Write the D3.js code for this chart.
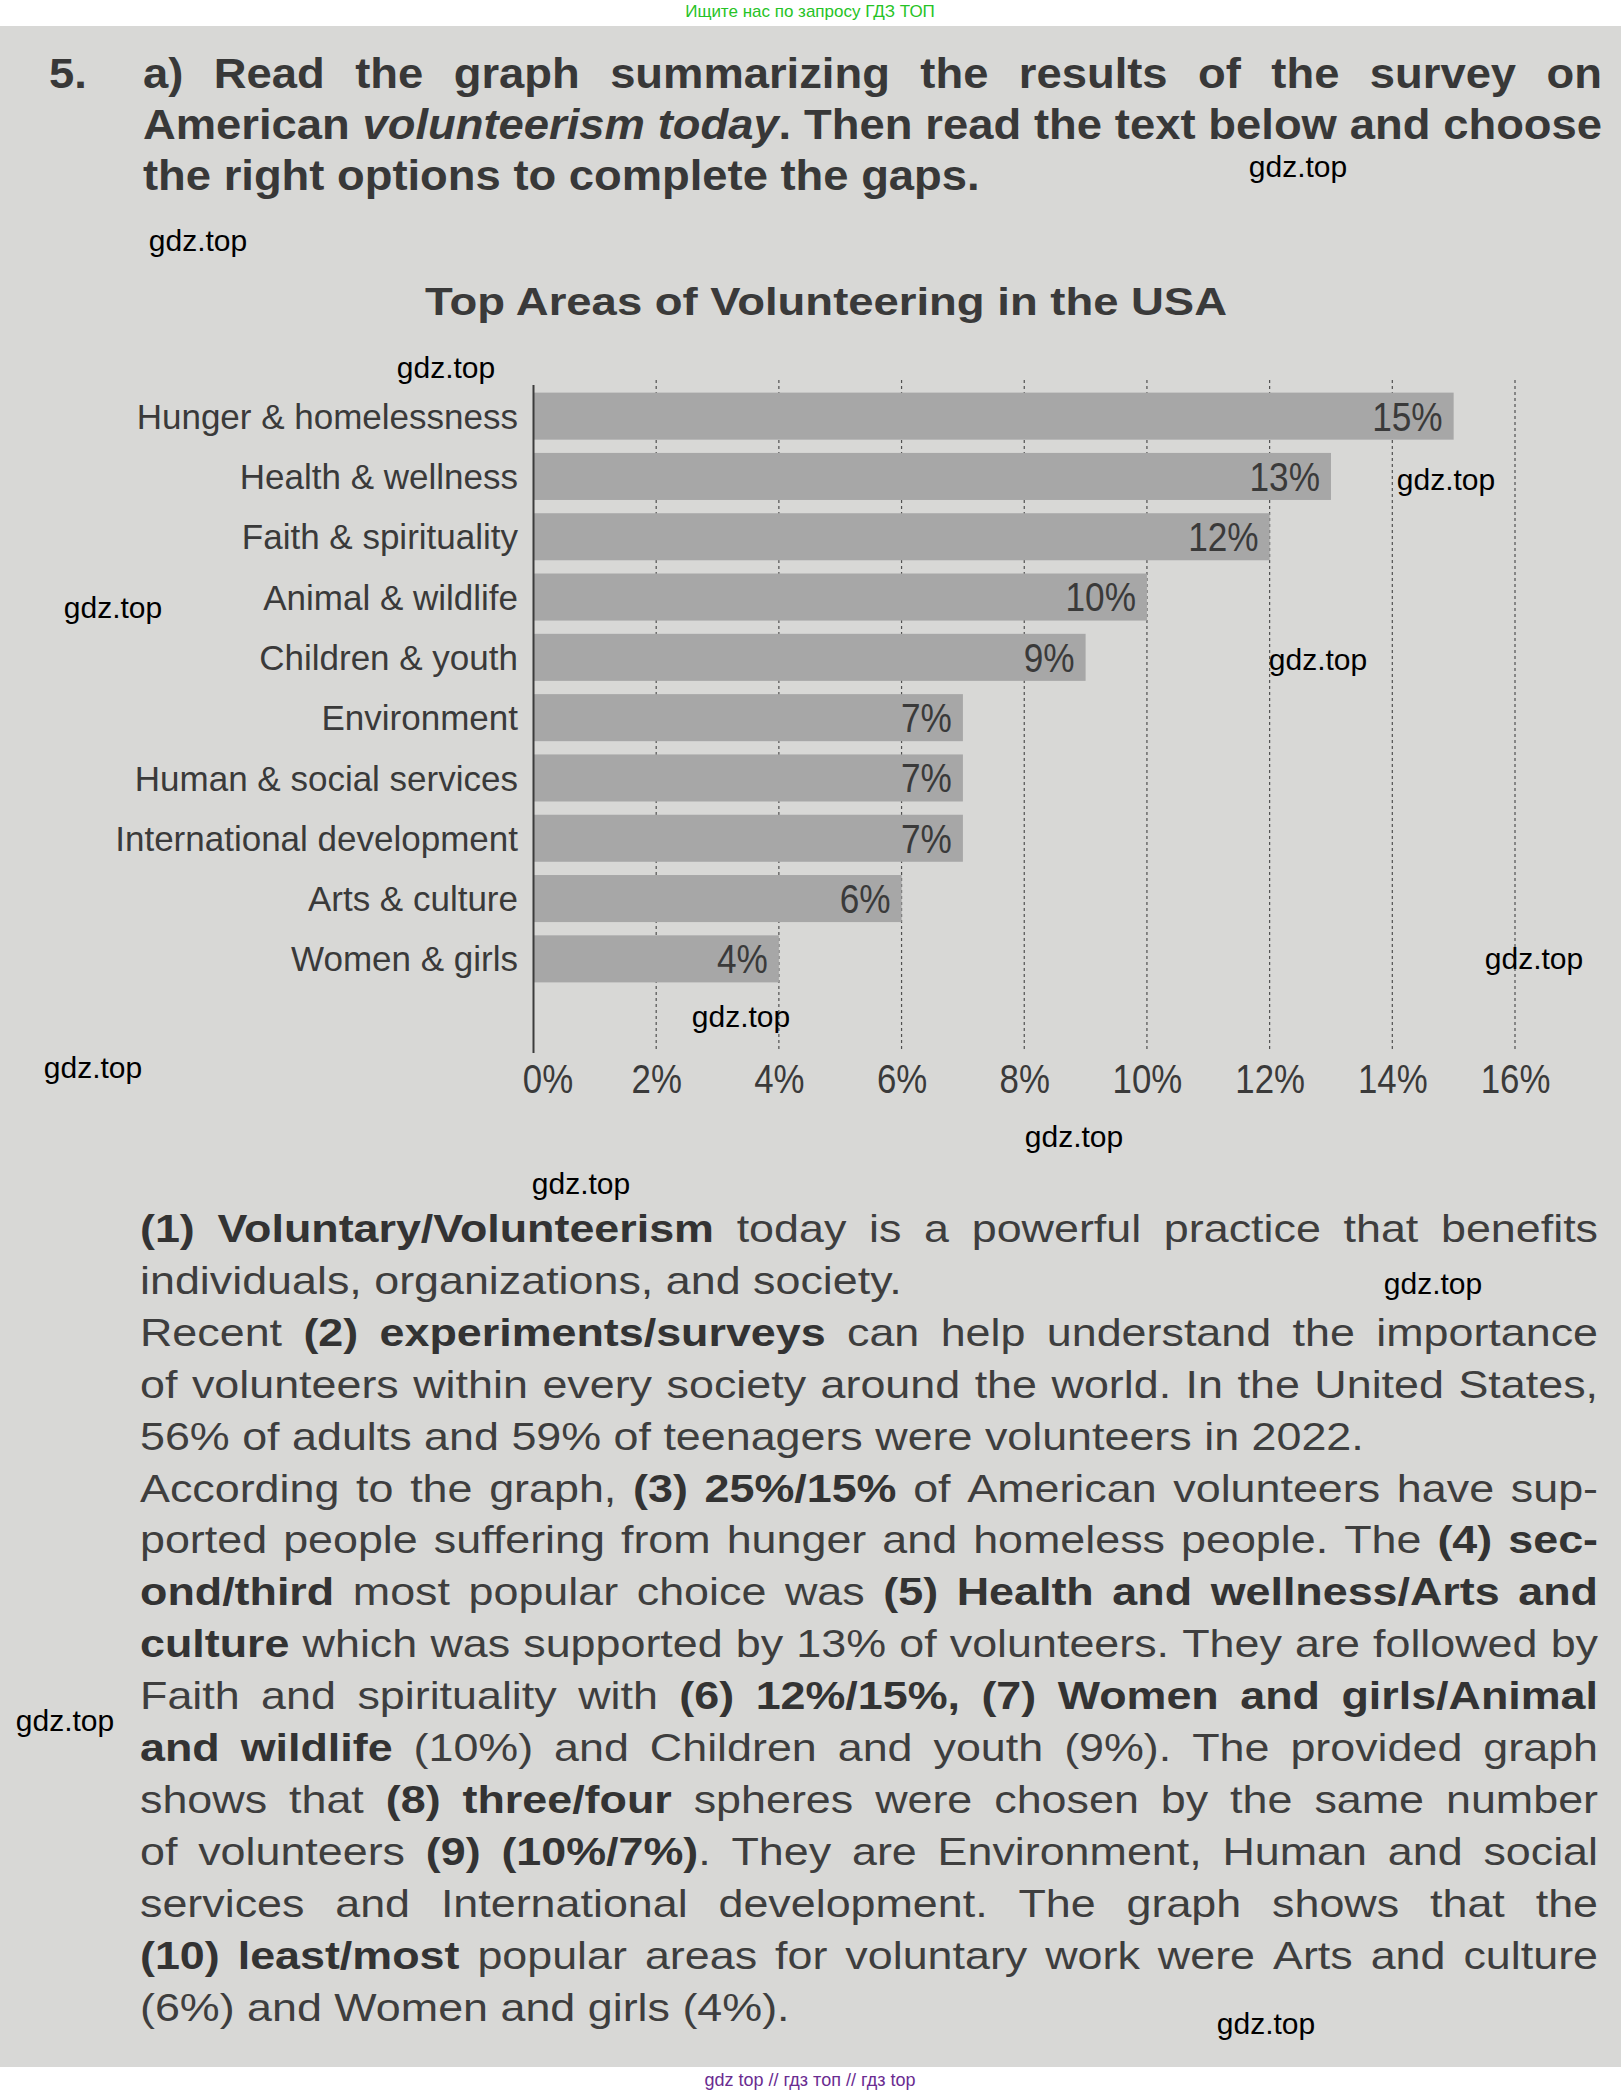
<!DOCTYPE html>
<html><head><meta charset="utf-8">
<script src="https://cdn.jsdelivr.net/npm/d3@7"></script>
<style>
html,body{margin:0;padding:0;background:#fff;}
svg{display:block;font-family:'Liberation Sans',Arial,sans-serif;}
</style></head><body>
<svg id="page" width="1621" height="2094"></svg>
<script>
// ---------- chart data ----------
const categories = ["Hunger & homelessness","Health & wellness","Faith & spirituality","Animal & wildlife","Children & youth","Environment","Human & social services","International development","Arts & culture","Women & girls"];
const values = [15,13,12,10,9,7,7,7,6,4];
const tickValues = [0,2,4,6,8,10,12,14,16];
const tickLabels = ["0%","2%","4%","6%","8%","10%","12%","14%","16%"];
const chartTitle = "Top Areas of Volunteering in the USA";

// ---------- page text ----------
const bannerTop = "Ищите нас по запросу ГДЗ ТОП";
const bannerBottom = "gdz top // гдз топ // гдз top";
const exerciseNumber = "5.";
const headingLines = [
  {segs:[["a) Read the graph summarizing the results of the survey on","b"]], justify:true},
  {segs:[["American ","b"],["volunteerism today","bi"],[". Then read the text below and choose","b"]], justify:true},
  {segs:[["the right options to complete the gaps.","b"]], justify:false}
];
const paragraphLines = [
  {segs:[["(1) Voluntary/Volunteerism","b"],[" today is a powerful practice that benefits","r"]], justify:true},
  {segs:[["individuals, organizations, and society.","r"]], justify:false},
  {segs:[["Recent ","r"],["(2) experiments/surveys","b"],[" can help understand the importance","r"]], justify:true},
  {segs:[["of volunteers within every society around the world. In the United States,","r"]], justify:true},
  {segs:[["56% of adults and 59% of teenagers were volunteers in 2022.","r"]], justify:false},
  {segs:[["According to the graph, ","r"],["(3) 25%/15%","b"],[" of American volunteers have sup-","r"]], justify:true},
  {segs:[["ported people suffering from hunger and homeless people. The ","r"],["(4) sec-","b"]], justify:true},
  {segs:[["ond/third","b"],[" most popular choice was ","r"],["(5) Health and wellness/Arts and","b"]], justify:true},
  {segs:[["culture","b"],[" which was supported by 13% of volunteers. They are followed by","r"]], justify:true},
  {segs:[["Faith and spirituality with ","r"],["(6) 12%/15%, (7) Women and girls/Animal","b"]], justify:true},
  {segs:[["and wildlife","b"],[" (10%) and Children and youth (9%). The provided graph","r"]], justify:true},
  {segs:[["shows that ","r"],["(8) three/four","b"],[" spheres were chosen by the same number","r"]], justify:true},
  {segs:[["of volunteers ","r"],["(9) (10%/7%)","b"],[". They are Environment, Human and social","r"]], justify:true},
  {segs:[["services and International development. The graph shows that the","r"]], justify:true},
  {segs:[["(10) least/most","b"],[" popular areas for voluntary work were Arts and culture","r"]], justify:true},
  {segs:[["(6%) and Women and girls (4%).","r"]], justify:false}
];
const watermarkText = "gdz.top";
const watermarks = [[1298,169],[198,243],[446,370],[1446,482],[113,610],[1318,662],[1534,961],[741,1019],[93,1070],[1074,1139],[581,1186],[1433,1286],[65,1723],[1266,2026]];

// ---------- drawing ----------
const svg = d3.select("#page");
svg.append("rect").attr("x",0).attr("y",0).attr("width",1621).attr("height",2094).attr("fill","#ffffff");
svg.append("rect").attr("x",0).attr("y",26).attr("width",1621).attr("height",2041).attr("fill","#d8d8d6");

svg.append("text").attr("x",810).attr("y",17).attr("text-anchor","middle")
  .attr("font-size",17).attr("fill","#26c326").text(bannerTop);
svg.append("text").attr("x",810).attr("y",2086).attr("text-anchor","middle")
  .attr("font-size",18).attr("fill","#6a2c91").text(bannerBottom);

function tokenize(segs){
  const words=[]; let cur=[];
  segs.forEach(([txt,style])=>{
    let buf='';
    for(const ch of txt){
      if(ch===' '){
        if(buf){cur.push({t:buf,s:style});buf='';}
        if(cur.length){words.push(cur);cur=[];}
      } else buf+=ch;
    }
    if(buf) cur.push({t:buf,s:style});
  });
  if(cur.length) words.push(cur);
  return words;
}
function drawLine(parent, line, x0, baseline, T, fs, sx, color, boldColor){
  const g = parent.append("g").attr("transform",`translate(${x0},${baseline}) scale(${sx},1)`);
  const words = tokenize(line.segs);
  const els = words.map(w=>{
    const t = g.append("text").attr("font-size",fs).attr("fill",color);
    w.forEach(p=>{
      const ts = t.append("tspan").text(p.t);
      if(p.s.includes("b")) ts.attr("font-weight","bold").attr("fill",boldColor);
      if(p.s.includes("i")) ts.attr("font-style","italic");
    });
    return t;
  });
  const widths = els.map(t=>t.node().getComputedTextLength());
  const sum = d3.sum(widths);
  let gap = (line.justify && words.length>1) ? (T/sx - sum)/(words.length-1) : fs*0.278;
  gap = Math.max(gap, fs*0.22);
  let x = 0;
  els.forEach((t,i)=>{ t.attr("x",x); x += widths[i]+gap; });
}

// heading
const head = svg.append("g");
head.append("g").attr("transform","translate(49,88) scale(1.08,1)")
  .append("text").attr("font-size",42).attr("font-weight","bold").attr("fill","#383838").text(exerciseNumber);
headingLines.forEach((ln,i)=>drawLine(head, ln, 143, 88+i*51, 1459, 42, 1.08, "#383838", "#383838"));

// chart
const chart = svg.append("g");
const x = d3.scaleLinear().domain([0,16]).range([533.5,1515]);
const y = d3.scaleBand().domain(categories).range([386,989]).paddingInner(0.22).paddingOuter(0.11);

chart.append("text").attr("x",826).attr("y",315).attr("text-anchor","middle")
  .attr("font-size",38).attr("font-weight","bold").attr("fill","#3a3a3a")
  .attr("textLength",802).attr("lengthAdjust","spacingAndGlyphs").text(chartTitle);

chart.selectAll("line.grid").data(tickValues.filter(d=>d>0)).join("line")
  .attr("class","grid").attr("x1",d=>x(d)).attr("x2",d=>x(d)).attr("y1",380).attr("y2",1052)
  .attr("stroke","#505050").attr("stroke-width",1.2).attr("stroke-dasharray","3,3");

chart.selectAll("rect.bar").data(values).join("rect").attr("class","bar")
  .attr("x",x(0)).attr("y",(d,i)=>y(categories[i]))
  .attr("width",d=>x(d)-x(0)).attr("height",y.bandwidth())
  .attr("fill","#a7a7a7");

chart.append("line").attr("x1",x(0)).attr("x2",x(0)).attr("y1",385).attr("y2",1053)
  .attr("stroke","#3c3c3c").attr("stroke-width",2);

chart.selectAll("text.cat").data(categories).join("text").attr("class","cat")
  .attr("x",518).attr("y",d=>y(d)+y.bandwidth()/2).attr("dy","0.36em")
  .attr("text-anchor","end").attr("font-size",35).attr("fill","#3a3a3a").text(d=>d);

chart.selectAll("g.val").data(values).join("g").attr("class","val")
  .attr("transform",(d,i)=>`translate(${x(d)-11},${y(categories[i])+y.bandwidth()/2})`)
  .append("text").attr("transform","scale(0.88,1)").attr("dy","0.36em")
  .attr("text-anchor","end").attr("font-size",40).attr("fill","#3a3a3a").text(d=>d+"%");

const axis = chart.append("g").attr("transform","translate(0,1053)")
  .call(d3.axisBottom(x).tickValues(tickValues).tickFormat((d,i)=>tickLabels[i]).tickSize(0).tickPadding(12));
axis.select(".domain").remove();
axis.selectAll("text").attr("font-size",40).attr("fill","#3a3a3a")
  .attr("font-family","'Liberation Sans',Arial,sans-serif")
  .attr("transform",d=>d===0?"translate(14,0) scale(0.87,1)":"scale(0.87,1)");

// paragraph
const para = svg.append("g");
paragraphLines.forEach((ln,i)=>drawLine(para, ln, 140, 1242+i*51.9, 1458, 38, 1.18, "#3e3e3e", "#333333"));

// watermarks
svg.append("g").selectAll("text").data(watermarks).join("text")
  .attr("x",d=>d[0]).attr("y",d=>d[1]+7.5).attr("text-anchor","middle")
  .attr("font-size",30).attr("fill","#000").text(watermarkText);
</script>
</body></html>
